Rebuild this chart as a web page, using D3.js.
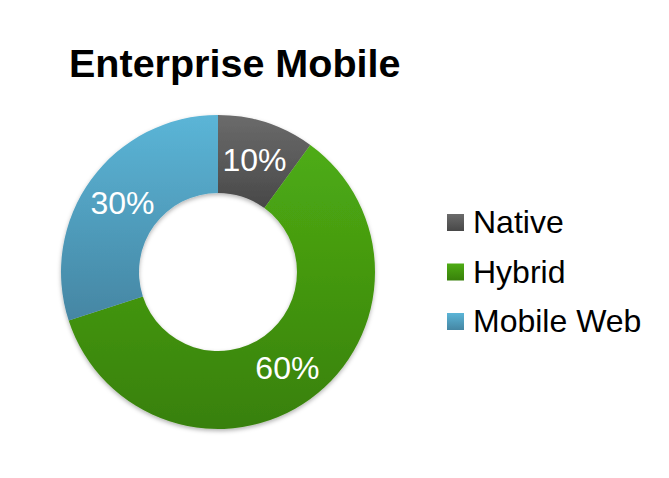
<!DOCTYPE html>
<html><head><meta charset="utf-8">
<script src="https://cdn.jsdelivr.net/npm/d3@7"></script>
<style>html,body{margin:0;padding:0;background:#fff;}svg{display:block;font-family:"Liberation Sans",Arial,sans-serif;}</style>
</head><body>
<script>
const title = "Enterprise Mobile";
const categories = ["Native", "Hybrid", "Mobile Web"];
const values = [10, 60, 30];
const labels = ["10%", "60%", "30%"];
const colorsTop = ["#6b6b6b", "#4eac14", "#5bb5d7"];
const colorsBottom = ["#484848", "#38800a", "#4586a3"];

const W = 669, H = 478;
const svg = d3.select("body").append("svg").attr("width", W).attr("height", H);
const defs = svg.append("defs");
categories.forEach((c, i) => {
  const g = defs.append("linearGradient").attr("id", "g" + i).attr("x1", 0).attr("y1", 0).attr("x2", 0).attr("y2", 1);
  g.append("stop").attr("offset", "0%").attr("stop-color", colorsTop[i]);
  g.append("stop").attr("offset", "100%").attr("stop-color", colorsBottom[i]);
});
const f = defs.append("filter").attr("id", "sh").attr("x", "-10%").attr("y", "-10%").attr("width", "120%").attr("height", "125%");
f.append("feDropShadow").attr("dx", 0).attr("dy", 2).attr("stdDeviation", 2).attr("flood-color", "#000").attr("flood-opacity", 0.3);

svg.append("text").attr("x", 69).attr("y", 77).attr("font-size", 39.5).attr("font-weight", "bold").attr("fill", "#000").text(title);

const cx = 218, cy = 272, R = 157, r = 79;
const pie = d3.pie().sort(null).value(d => d);
const arc = d3.arc().innerRadius(r).outerRadius(R);
const arcs = pie(values);
const g = svg.append("g").attr("transform", `translate(${cx},${cy})`);
g.append("g").attr("filter", "url(#sh)").selectAll("path").data(arcs).join("path")
  .attr("d", arc).attr("fill", (d, i) => `url(#g${i})`);
g.selectAll("text.lbl").data(arcs).join("text").attr("class", "lbl")
  .attr("transform", d => `translate(${arc.centroid(d)})`)
  .attr("text-anchor", "middle").attr("dy", "0.36em")
  .attr("font-size", 32).attr("fill", "#fff")
  .text((d, i) => labels[i]);

const leg = svg.append("g").attr("transform", "translate(447,214)");
categories.forEach((c, i) => {
  const row = leg.append("g").attr("transform", `translate(0,${i * 49.5})`);
  row.append("rect").attr("width", 17).attr("height", 17).attr("fill", `url(#g${i})`);
  row.append("text").attr("x", 26).attr("y", 19).attr("font-size", 32).attr("fill", "#000").text(c);
});
</script>
</body></html>
